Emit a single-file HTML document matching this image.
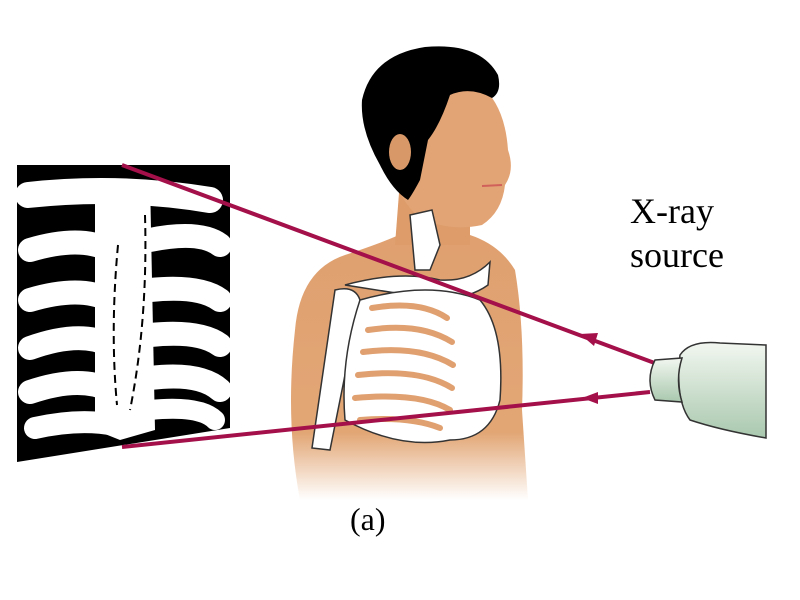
<!DOCTYPE html>
<html><head><meta charset="utf-8"><style>
html,body{margin:0;padding:0;background:#fff;}
svg{display:block}
text{font-family:"Liberation Serif",serif;fill:#000}
</style></head><body>
<svg width="800" height="600" viewBox="0 0 800 600" xmlns="http://www.w3.org/2000/svg">
<defs>
<linearGradient id="fade" x1="0" y1="0" x2="0" y2="1">
<stop offset="0" stop-color="#e0a070"/><stop offset="0.75" stop-color="#e2a675"/><stop offset="1" stop-color="#fff"/>
</linearGradient>
<linearGradient id="src" x1="0" y1="0" x2="0" y2="1">
<stop offset="0" stop-color="#f2f7f0"/><stop offset="1" stop-color="#a9c8ae"/>
</linearGradient>
</defs>
<!-- film -->
<polygon points="17,165 230,165 230,428 17,462" fill="#000"/>
<g stroke="#fff" stroke-linecap="round" fill="none">
<path d="M28,195 Q120,185 210,200" stroke-width="26"/>
<path d="M30,250 Q80,235 110,250" stroke-width="24"/>
<path d="M30,300 Q80,285 110,300" stroke-width="24"/>
<path d="M30,348 Q80,330 110,345" stroke-width="24"/>
<path d="M30,392 Q80,375 110,390" stroke-width="24"/>
<path d="M35,428 Q80,418 115,425" stroke-width="22"/>
<path d="M150,240 Q200,230 220,245" stroke-width="24"/>
<path d="M150,290 Q200,285 220,300" stroke-width="24"/>
<path d="M150,335 Q200,330 220,345" stroke-width="24"/>
<path d="M150,378 Q200,372 220,390" stroke-width="24"/>
<path d="M150,410 Q200,405 215,420" stroke-width="20"/>
</g>
<path d="M95,180 L150,180 L155,430 L120,440 L95,430 Z" fill="#fff"/>
<g stroke="#000" stroke-width="2" fill="none" stroke-dasharray="8,5">
<path d="M118,245 Q110,330 117,405"/><path d="M145,215 Q148,320 130,410"/>
</g>
<!-- body -->
<path d="M300,500 Q285,420 295,330 Q300,270 345,255 Q390,240 405,232 L470,235 Q500,245 515,270 Q525,330 522,410 L528,500 Z" fill="url(#fade)"/>
<path d="M400,180 L395,245 L470,245 L470,200 Z" fill="#dd9c6a"/>
<!-- head -->
<path d="M390,90 Q430,70 480,85 Q505,105 508,150 Q515,170 505,185 Q502,212 482,225 Q450,232 420,218 Q398,200 390,165 Z" fill="#e3a475"/>
<path d="M362,100 Q372,55 425,47 Q480,42 498,75 Q502,92 492,98 Q470,86 450,95 Q440,125 428,140 L420,180 Q412,195 408,200 Q392,190 380,165 Q360,130 362,100 Z" fill="#000"/>
<ellipse cx="400" cy="152" rx="11" ry="18" fill="#d99868"/>
<path d="M482,186 L502,185" stroke="#d0605a" stroke-width="2"/>
<!-- skeleton -->
<g fill="#fff" stroke="#333" stroke-width="1.5">
<path d="M410,215 L432,210 L440,245 L430,270 L415,270 Z"/>
<path d="M345,285 Q400,270 440,280 Q470,282 490,262 L488,285 Q470,298 440,300 Z"/>
<path d="M335,290 Q355,285 360,300 L330,450 L312,448 Z"/>
<path d="M360,300 Q430,280 480,300 Q505,330 500,400 Q490,440 450,440 Q400,450 345,420 Q340,360 360,300 Z"/>
</g>
<g stroke="#e0a070" stroke-width="6" fill="none" stroke-linecap="round">
<path d="M372,308 Q420,300 447,318"/><path d="M368,330 Q420,322 452,342"/><path d="M363,352 Q420,345 453,365"/>
<path d="M358,375 Q420,368 452,388"/><path d="M355,398 Q420,392 450,410"/><path d="M360,420 Q410,416 440,428"/>
</g>
<!-- rays -->
<g stroke="#a3104a" stroke-width="4">
<line x1="122" y1="165" x2="660" y2="365"/>
<line x1="122" y1="447" x2="650" y2="392"/>
</g>
<polygon points="580,334 598,333 594,346" fill="#a3104a"/>
<polygon points="582,398 598,392 598,404" fill="#a3104a"/>
<!-- source -->
<path d="M680,355 Q690,340 720,343 L766,345 L766,438 Q720,430 690,420 Q675,400 680,355 Z" fill="url(#src)" stroke="#333" stroke-width="1.5"/>
<path d="M655,360 L682,358 Q675,380 682,402 L655,400 Q645,380 655,360 Z" fill="url(#src)" stroke="#333" stroke-width="1.5"/>
<text x="630" y="223" font-size="36">X-ray</text>
<text x="630" y="267" font-size="36">source</text>
<text x="350" y="530" font-size="32">(a)</text>
</svg>
</body></html>
